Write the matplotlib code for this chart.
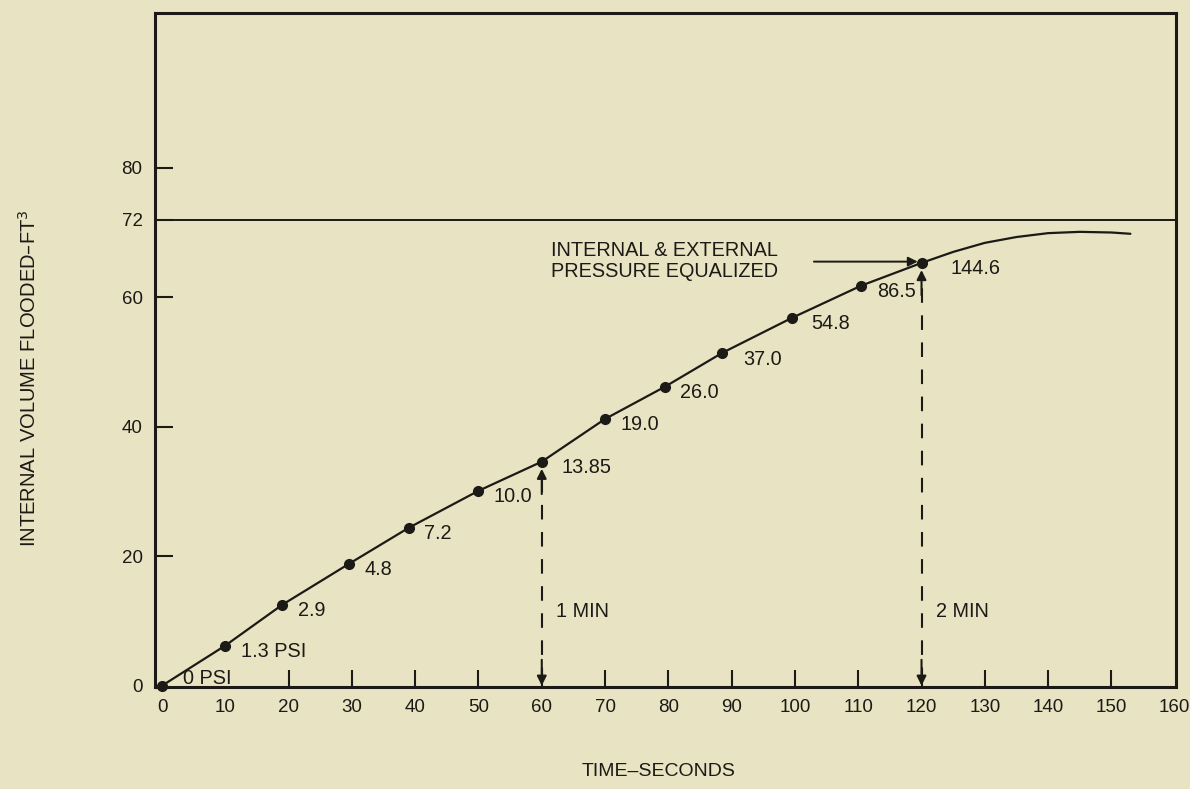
import matplotlib.pyplot as plt

# data
times = [0, 10, 19, 29.5, 39, 50, 60, 70, 79.5, 88.5, 99.5, 110.5, 120]
volumes = [0, 6.2, 12.5, 18.8, 24.4, 30.1, 34.6, 41.2, 46.2, 51.4, 56.8, 61.8, 65.3]
pressures = ["0 PSI", "1.3 PSI", "2.9", "4.8", "7.2", "10.0", "13.85", "19.0",
             "26.0", "37.0", "54.8", "86.5", "144.6"]

# curve after equalization (no markers)
tail_times = [120, 125, 130, 135, 140, 145, 150, 153]
tail_volumes = [65.3, 67.0, 68.4, 69.3, 69.9, 70.1, 70.0, 69.8]

limit_volume = 72
minute_marks = [60, 120]
minute_labels = ["1 MIN", "2 MIN"]

xticks = list(range(0, 161, 10))
yticks = [0, 20, 40, 60, 72, 80]

BG = "#e8e3c2"
INK = "#1c1a16"

plt.rcParams['font.family'] = ['Liberation Sans', 'DejaVu Sans']


def main():
    fig = plt.figure(figsize=(11.9, 7.89), dpi=100, facecolor=BG)
    ax = fig.add_axes([0.1303, 0.1293, 0.8579, 0.8542], facecolor=BG)

    ax.set_xlim(-1.1, 160.2)
    ax.set_ylim(-0.2, 103.9)

    # main curve
    ax.plot(times + tail_times[1:], volumes + tail_volumes[1:], color=INK, lw=1.6,
            solid_capstyle='round', zorder=3)
    ax.plot(times, volumes, 'o', color=INK, ms=7, clip_on=False, zorder=4)

    ax.axhline(limit_volume, color=INK, lw=1.4)

    # pressure labels
    offsets = {"0 PSI": (15, 5), "13.85": (14, -4), "144.6": (21, -4), "37.0": (15, -5),
               "54.8": (14, -4)}
    for t, v, lab in zip(times, volumes, pressures):
        dx, dy = offsets.get(lab, (11, -4))
        ax.annotate(lab, (t, v), xytext=(dx, dy), textcoords='offset points',
                    fontsize=14.3, color=INK, ha='left', va='center')

    # dashed minute markers with arrows
    vol_at = dict(zip(times, volumes))
    for m, lab in zip(minute_marks, minute_labels):
        top = vol_at[m]
        ax.plot([m, m], [0.6, top - 2.5], color=INK, lw=1.5,
                linestyle=(0, (7, 6)), zorder=2)
        ax.annotate('', xy=(m, top - 1.1), xytext=(m, top - 5),
                    arrowprops=dict(arrowstyle='-|>', color=INK, lw=1.5,
                                    mutation_scale=14, shrinkA=0, shrinkB=0))
        ax.annotate('', xy=(m, 0), xytext=(m, 4),
                    arrowprops=dict(arrowstyle='-|>', color=INK, lw=1.5,
                                    mutation_scale=14, shrinkA=0, shrinkB=0))
        ax.text(m + 2.3, 11.4, lab, fontsize=14.3, color=INK, ha='left', va='center')

    # equalization note
    ax.text(61.5, 65.6, "INTERNAL & EXTERNAL\nPRESSURE EQUALIZED", fontsize=14.3,
            color=INK, ha='left', va='center', linespacing=1.1)
    ax.annotate('', xy=(times[-1] - 0.6, volumes[-1] + 0.2), xytext=(103, volumes[-1] + 0.2),
                arrowprops=dict(arrowstyle='-|>', color=INK, lw=1.4,
                                mutation_scale=14, shrinkA=0, shrinkB=0))

    ax.set_xticks(xticks)
    ax.set_yticks(yticks)
    ax.tick_params(axis='x', direction='in', length=12, width=1.5, pad=9,
                   labelsize=13.5, colors=INK)
    ax.tick_params(axis='y', direction='in', length=13, width=1.5, pad=9,
                   labelsize=13.5, colors=INK)
    # no tick marks at the ends and under the 0 PSI label
    xt = ax.xaxis.get_major_ticks()
    for tk in [xt[0], xt[1], xt[-1]]:
        tk.tick1line.set_visible(False)
    ax.yaxis.get_major_ticks()[0].tick1line.set_visible(False)
    for sp in ax.spines.values():
        sp.set_linewidth(2.2)
        sp.set_color(INK)

    fig.text(0.5538, 0.012, "TIME\u2013SECONDS", fontsize=14, color=INK,
             ha='center', va='bottom')
    fig.text(0.024, 0.521, "INTERNAL VOLUME FLOODED\u2013FT$^3$", fontsize=14.5, color=INK,
             ha='center', va='center', rotation=90)

    fig.savefig("out.png", dpi=100, facecolor=BG)


if __name__ == "__main__":
    main()
